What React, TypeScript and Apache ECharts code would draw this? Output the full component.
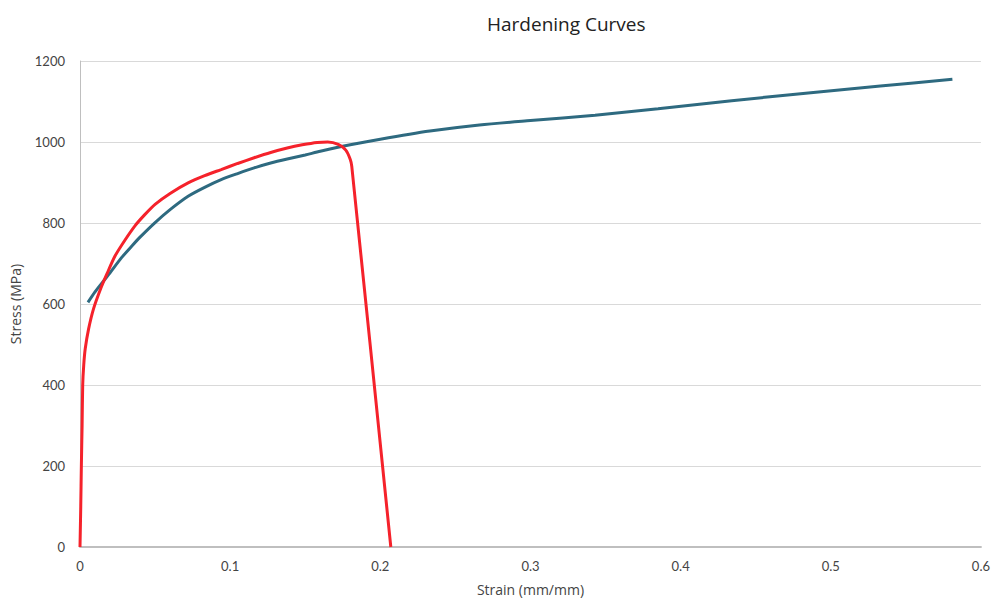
import React, { useEffect, useRef } from "react";
import * as echarts from "echarts";

const titleText = "Hardening Curves";
const xAxisName = "Strain (mm/mm)";
const yAxisName = "Stress (MPa)";

// Blue curve (strain, stress)
const blueStrain = [0.0053, 0.01, 0.0157, 0.02, 0.0278, 0.035, 0.04, 0.05, 0.06, 0.072, 0.083, 0.094, 0.105, 0.116, 0.127, 0.138, 0.15, 0.16, 0.18, 0.2, 0.233, 0.266, 0.3, 0.343, 0.385, 0.434, 0.485, 0.533, 0.581];
const blueStress = [604, 630, 657, 677, 715, 745, 765, 801, 833, 866, 888, 907, 922, 936, 948, 958, 968, 977, 993, 1007, 1027, 1042, 1053, 1066, 1082, 1102, 1121, 1138, 1155];

// Red curve (strain, stress)
const redStrain = [0, 0.0005, 0.0009, 0.0014, 0.0018, 0.0025, 0.0035, 0.0057, 0.009, 0.014, 0.018, 0.0234, 0.03, 0.0366, 0.043, 0.05, 0.06, 0.072, 0.083, 0.094, 0.105, 0.116, 0.127, 0.138, 0.148, 0.158, 0.165, 0.172, 0.177, 0.18, 0.181, 0.207];
const redStress = [0, 100, 200, 300, 400, 450, 490, 538, 588, 640, 675, 719, 758, 793, 820, 846, 873, 899, 917, 932, 947, 961, 974, 985, 993, 999, 1000, 994, 980, 957, 940, 0];

export default function App() {
  const ref = useRef<HTMLDivElement>(null);
  useEffect(() => {
    if (!ref.current) return;
    const chart = echarts.init(ref.current, undefined, { renderer: "svg" });
    const blue = blueStrain.map((x, i) => [x, blueStress[i]]);
    const red = redStrain.map((x, i) => [x, redStress[i]]);
    chart.setOption({
      animation: false,
      backgroundColor: "#ffffff",
      title: {
        text: titleText,
        left: 482,
        top: 9,
        textStyle: { fontFamily: "Open Sans", fontSize: 19, fontWeight: "normal", color: "#222" },
      },
      grid: { left: 78, right: 8, top: 61, bottom: 52, containLabel: false },
      xAxis: {
        type: "value",
        min: 0,
        max: 0.6,
        interval: 0.1,
        name: xAxisName,
        nameLocation: "middle",
        nameGap: 35,
        nameTextStyle: { fontFamily: "Open Sans", fontSize: 14, color: "#444" },
        axisLine: { show: true, lineStyle: { color: "#bfbfbf", width: 2 } },
        axisTick: { show: false },
        axisLabel: { fontFamily: "Lato", fontSize: 13, color: "#444", margin: 12 },
        splitLine: { show: false },
      },
      yAxis: {
        type: "value",
        min: 0,
        max: 1200,
        interval: 200,
        name: yAxisName,
        nameLocation: "middle",
        nameGap: 58,
        nameRotate: 90,
        nameTextStyle: { fontFamily: "Open Sans", fontSize: 14, color: "#444" },
        axisLine: { show: true, lineStyle: { color: "#bfbfbf", width: 1 } },
        axisTick: { show: false },
        axisLabel: { fontFamily: "Lato", fontSize: 13, color: "#444", margin: 15, formatter: (v: number) => String(v) },
        splitLine: { show: true, lineStyle: { color: "#d9d9d9", width: 1 } },
      },
      series: [
        {
          type: "line",
          data: blue,
          smooth: 0.25,
          showSymbol: false,
          lineStyle: { color: "#2e6a80", width: 3 },
          z: 2,
        },
        {
          type: "line",
          data: red,
          smooth: 0.25,
          showSymbol: false,
          lineStyle: { color: "#f5222b", width: 3 },
          z: 3,
        },
      ],
    });
    return () => chart.dispose();
  }, []);
  return <div ref={ref} style={{ width: 993, height: 601, position: "absolute", left: 0, top: 0 }} />;
}
